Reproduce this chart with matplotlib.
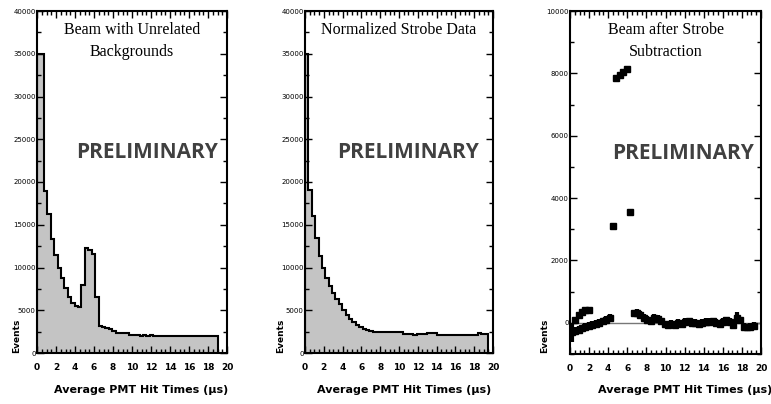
import matplotlib
matplotlib.use("Agg")
import matplotlib.pyplot as plt
import numpy as np
from matplotlib.ticker import MultipleLocator

# histogram bins (us)
bin_width = 0.36

# beam with unrelated backgrounds
beam_counts = [35000, 35000, 19000, 16200, 13300, 11500, 9950, 8800, 7600, 6600,
               5900, 5450, 5400, 8000, 12300, 12000, 11600, 6600, 3100, 3000,
               2900, 2750, 2550, 2350, 2350, 2350, 2350, 2150, 2150, 2150,
               1950, 2100, 1950, 2100, 1950, 1950, 1950, 1950, 1950, 1950,
               1950, 1950, 1950, 1950, 1950, 1950, 1950, 1950, 1950, 1950,
               1950, 1950, 1950]

# normalized strobe data
strobe_counts = [35000, 19100, 16000, 13450, 11300, 9950, 8800, 7800, 7000, 6300,
                 5700, 5000, 4450, 4000, 3650, 3300, 3050, 2800, 2650, 2550,
                 2500, 2450, 2400, 2400, 2400, 2400, 2400, 2400, 2500, 2250,
                 2250, 2250, 2050, 2250, 2250, 2250, 2350, 2350, 2350, 2100,
                 2100, 2100, 2100, 2100, 2100, 2100, 2100, 2100, 2100, 2100,
                 2100, 2300, 2200, 2200]

# beam after strobe subtraction
sub_x = [0.18, 0.54, 0.90, 1.26, 1.62, 1.98, 2.34, 2.70, 3.06, 3.42,
         3.78, 4.14, 4.50, 4.86, 5.22, 5.58, 5.94, 6.30, 6.66, 7.02,
         7.38, 7.74, 8.10, 8.46, 8.82, 9.18, 9.54, 9.90, 10.26, 10.62,
         10.98, 11.34, 11.70, 12.06, 12.42, 12.78, 13.14, 13.50, 13.86, 14.22,
         14.58, 14.94, 15.30, 15.66, 16.02, 16.38, 16.74, 17.10, 17.46, 17.82,
         18.18, 18.54, 18.90, 19.26]
sub_y = [-300, -250, -220, -180, -140, -100, -70, -30, 0, 50,
         100, 150, 3100, 7850, 7950, 8050, 8150, 3550, 300, 330,
         250, 150, 100, 60, 150, 120, 50, -50, -80, -40,
         -60, 0, -30, 30, 50, -20, 0, -30, 10, 40,
         20, 50, 0, -30, 40, 80, 20, -60, 150, 80,
         -120, -150, -130, -100]
sub_err = [300, 120, 120, 120, 120, 120, 120, 120, 120, 120,
           120, 120, 100, 100, 100, 100, 100, 100, 120, 120,
           120, 120, 120, 120, 120, 120, 120, 120, 120, 120,
           120, 120, 120, 120, 120, 120, 120, 120, 120, 120,
           120, 120, 120, 120, 120, 120, 120, 120, 200, 120,
           120, 120, 120, 120]
# second branch of early points
early_x = [0.54, 0.90, 1.26, 1.62, 1.98]
early_y = [100, 250, 350, 420, 400]

x_ticks = [0, 2, 4, 6, 8, 10, 12, 14, 16, 18, 20]
xlabel = "Average PMT Hit Times (\u00b5s)"

fig = plt.figure(figsize=(7.71, 4.04), dpi=100)
W, H = 771.0, 404.0


def box(l, r, t, b):
    return [l / W, 1 - b / H, (r - l) / W, (b - t) / H]


ax1 = fig.add_axes(box(37, 227, 11, 353))
ax2 = fig.add_axes(box(305, 493, 11, 353))
ax3 = fig.add_axes(box(570, 761, 11, 354))


def style(ax, ymax_major, ymin_minor):
    ax.set_xlim(0, 20)
    ax.xaxis.set_major_locator(MultipleLocator(2))
    ax.xaxis.set_minor_locator(MultipleLocator(0.5))
    ax.yaxis.set_major_locator(MultipleLocator(ymax_major))
    ax.yaxis.set_minor_locator(MultipleLocator(ymin_minor))
    ax.set_xticks(x_ticks)
    ax.tick_params(which="both", direction="in", top=True, right=True, width=1)
    ax.tick_params(which="major", length=5)
    ax.tick_params(which="minor", length=3)
    ax.tick_params(axis="x", labelsize=6.5, pad=7)
    ax.tick_params(axis="y", labelsize=5, pad=1)
    for lab in ax.get_xticklabels():
        lab.set_fontweight("bold")
    for s in ax.spines.values():
        s.set_linewidth(1.5)


for ax, counts in [(ax1, beam_counts), (ax2, strobe_counts)]:
    edges = np.arange(len(counts) + 1) * bin_width
    ax.stairs(counts, edges, fill=True, color="#c4c4c4")
    ax.stairs(counts, edges, baseline=0, color="black", lw=1.5)
    ax.set_ylim(0, 40000)
    style(ax, 5000, 2500)

ax3.axhline(0, color="#777777", lw=1)
ax3.errorbar(sub_x, sub_y, yerr=sub_err, fmt="s", ms=5, color="black",
             elinewidth=3, capsize=0)
ax3.plot(early_x, early_y, "s", ms=5, color="black")
ax3.set_ylim(-1000, 10000)
style(ax3, 2000, 1000)
ax3.set_yticks([0, 2000, 4000, 6000, 8000, 10000])

serif = ["Liberation Serif", "DejaVu Serif"]
ax1.text(0.5, 0.945, "Beam with Unrelated", transform=ax1.transAxes,
         ha="center", va="center", fontsize=11.5, family=serif)
ax1.text(0.5, 0.88, "Backgrounds", transform=ax1.transAxes,
         ha="center", va="center", fontsize=11.5, family=serif)
ax2.text(0.5, 0.945, "Normalized Strobe Data", transform=ax2.transAxes,
         ha="center", va="center", fontsize=11.5, family=serif)
ax3.text(0.5, 0.945, "Beam after Strobe", transform=ax3.transAxes,
         ha="center", va="center", fontsize=11.5, family=serif)
ax3.text(0.5, 0.88, "Subtraction", transform=ax3.transAxes,
         ha="center", va="center", fontsize=11.5, family=serif)

for ax, px in [(ax1, 0.58), (ax2, 0.55), (ax3, 0.59)]:
    ax.text(px, 0.585, "PRELIMINARY", transform=ax.transAxes, ha="center",
            va="center", fontsize=15, fontweight="bold", color="#404040",
            family=["Open Sans", "DejaVu Sans"])

for cx in [141, 404, 685]:
    fig.text(cx / W, 1 - 390 / H, xlabel, ha="center", va="center",
             fontsize=8, fontweight="bold")
for ex in [17, 281, 545]:
    fig.text(ex / W, 1 - 353 / H, "Events", rotation=90, ha="center",
             va="bottom", fontsize=6.5, fontweight="bold")

fig.savefig("out.png", dpi=100)
